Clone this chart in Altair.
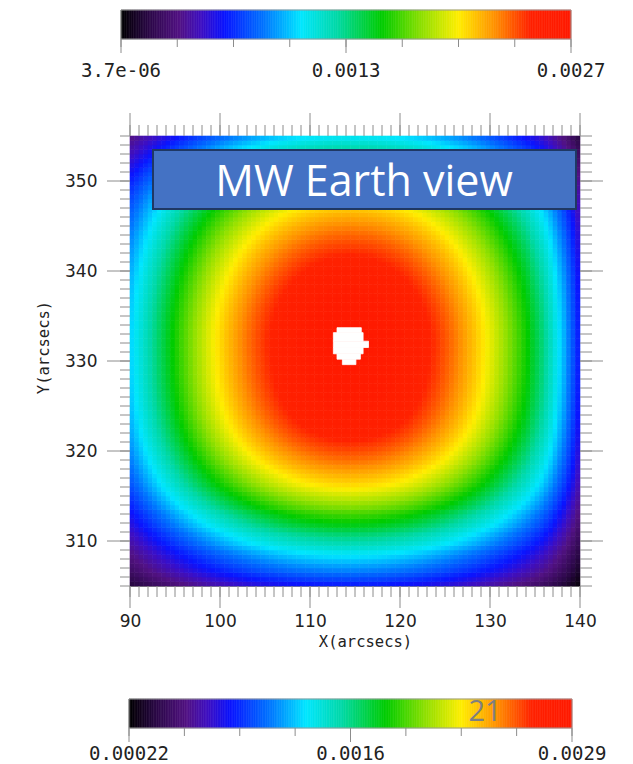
import altair as alt
import numpy as np
import pandas as pd

# Colour table: fraction of a colour-bar range -> colour
cmap_stops = [0.0, 0.06, 0.13, 0.18, 0.23, 0.32, 0.40, 0.48, 0.58, 0.67, 0.75, 0.83, 0.91, 1.0]
cmap_colors = ["#000000", "#2a0845", "#521283", "#3d0fc4", "#0a14ff", "#0078ff", "#00e6ff",
               "#00d9a8", "#00cc00", "#90e000", "#ffee00", "#ff9200", "#ff2200", "#ff1a00"]

# Intensity profiles across the field, one value per 0.5-arcsec cell
cell = 0.5
x_first = 90.0
y_first = 305.0
peak = 0.0029
x_profile = [
    0.438, 0.458, 0.478, 0.498, 0.518, 0.537, 0.557, 0.575, 0.594, 0.612,
    0.630, 0.648, 0.665, 0.682, 0.699, 0.715, 0.731, 0.747, 0.762, 0.777,
    0.791, 0.805, 0.818, 0.831, 0.844, 0.856, 0.868, 0.879, 0.890, 0.900,
    0.910, 0.919, 0.928, 0.937, 0.944, 0.952, 0.959, 0.965, 0.971, 0.976,
    0.981, 0.985, 0.989, 0.992, 0.995, 0.997, 0.998, 0.999, 1.000, 1.000,
    0.999, 0.998, 0.997, 0.995, 0.992, 0.989, 0.985, 0.981, 0.976, 0.971,
    0.965, 0.959, 0.952, 0.944, 0.937, 0.928, 0.919, 0.910, 0.900, 0.890,
    0.879, 0.868, 0.856, 0.844, 0.831, 0.818, 0.805, 0.791, 0.777, 0.762,
    0.747, 0.731, 0.715, 0.699, 0.682, 0.665, 0.648, 0.630, 0.612, 0.590,
    0.570, 0.550, 0.525, 0.500, 0.470, 0.440, 0.410, 0.375, 0.340, 0.300,
]
y_profile = [
    0.300, 0.330, 0.355, 0.380, 0.400, 0.420, 0.440, 0.460, 0.485, 0.510,
    0.530, 0.550, 0.575, 0.600, 0.620, 0.640, 0.660, 0.685, 0.705, 0.725,
    0.745, 0.765, 0.785, 0.800, 0.815, 0.830, 0.845, 0.860, 0.872, 0.884,
    0.896, 0.907, 0.918, 0.927, 0.936, 0.944, 0.951, 0.958, 0.964, 0.969,
    0.974, 0.978, 0.982, 0.985, 0.988, 0.991, 0.993, 0.995, 0.996, 0.997,
    0.998, 0.999, 1.000, 1.000, 1.000, 1.000, 0.999, 0.998, 0.996, 0.994,
    0.991, 0.988, 0.984, 0.980, 0.975, 0.970, 0.965, 0.959, 0.953, 0.946,
    0.939, 0.932, 0.924, 0.916, 0.907, 0.898, 0.888, 0.878, 0.867, 0.856,
    0.844, 0.832, 0.819, 0.805, 0.790, 0.774, 0.757, 0.739, 0.720, 0.700,
    0.679, 0.657, 0.634, 0.610, 0.585, 0.560, 0.535, 0.510, 0.485, 0.460,
]

# Blank (masked) pixels near the disc centre, one span per row
mask_x0 = [113.0, 112.6, 112.6, 112.6, 113.0, 113.6]
mask_x1 = [115.7, 115.9, 116.5, 115.9, 115.6, 115.1]
mask_y0 = [333.15, 332.2, 331.5, 330.8, 330.2, 329.6]
mask_y1 = [333.7, 333.15, 332.2, 331.5, 330.8, 330.2]

# Axes
x_range = [90, 140]
y_range = [305, 355]
x_minor = list(range(90, 141))
x_major = list(range(90, 141, 10))
y_minor = list(range(305, 356))
y_major = list(range(310, 351, 10))

# Colour bars
top_bar_lo, top_bar_hi = 3.7e-06, 0.0027
top_bar_labels = ["3.7e-06", "0.0013", "0.0027"]
bottom_bar_lo, bottom_bar_hi = 0.00022, 0.0029
bottom_bar_labels = ["0.00022", "0.0016", "0.0029"]
bar_divisions = 8

title_text = "MW Earth view"
slide_number = "21"

TICK = "#8c8c8c"
INK = "#222222"
MONO = "DejaVu Sans Mono"


def colour_scale(lo, hi):
    return alt.Scale(domain=[lo + s * (hi - lo) for s in cmap_stops], range=cmap_colors,
                     interpolate="rgb", clamp=True)


# ---------------- heat map ----------------
xs, ys = np.meshgrid(x_first + cell * np.arange(len(x_profile)),
                     y_first + cell * np.arange(len(y_profile)))
gx, gy = np.meshgrid(x_profile, y_profile)
grid = pd.DataFrame({
    "x0": xs.ravel(), "x1": xs.ravel() + cell,
    "y0": ys.ravel(), "y1": ys.ravel() + cell,
    "v": np.round(peak * gx.ravel() * gy.ravel(), 8),
})

xscale = alt.Scale(domain=x_range, nice=False, zero=False)
yscale = alt.Scale(domain=y_range, nice=False, zero=False)
heat_cs = colour_scale(bottom_bar_lo, bottom_bar_hi)

x_axis = alt.Axis(values=x_major, title="X(arcsecs)", ticks=False, grid=False,
                  domainColor=TICK, labelFont="DejaVu Sans", labelFontSize=17, labelColor=INK,
                  labelPadding=35, labelBaseline="middle", labelFlush=False, labelOverlap=False,
                  titleFont=MONO, titleFontSize=15.5, titleFontWeight="normal", titleColor=INK,
                  titleX=235, titleY=55, titleAlign="center", titleBaseline="middle")
y_axis = alt.Axis(values=y_major, title="Y(arcsecs)", ticks=False, grid=False,
                  domainColor=TICK, labelFont="DejaVu Sans", labelFontSize=17, labelColor=INK,
                  labelPadding=33, labelFlush=False, labelOverlap=False,
                  titleFont=MONO, titleFontSize=15.5, titleFontWeight="normal", titleColor=INK,
                  titleX=-87, titleY=211, titleAngle=270, titleAlign="center", titleBaseline="middle")

heat = alt.Chart(grid).mark_rect(strokeWidth=0.6).encode(
    x=alt.X("x0:Q", scale=xscale, axis=x_axis),
    x2="x1:Q",
    y=alt.Y("y0:Q", scale=yscale, axis=y_axis),
    y2="y1:Q",
    color=alt.Color("v:Q", scale=heat_cs, legend=None),
    stroke=alt.Stroke("v:Q", scale=heat_cs, legend=None),
)

mask = alt.Chart(pd.DataFrame({"x0": mask_x0, "x1": mask_x1, "y0": mask_y0, "y1": mask_y1})).mark_rect(
    color="white", stroke="white", strokeWidth=0.8
).encode(
    x=alt.X("x0:Q", scale=xscale, axis=x_axis), x2="x1:Q",
    y=alt.Y("y0:Q", scale=yscale, axis=y_axis), y2="y1:Q",
)


def x_ticks(values, y_from, y_to):
    return alt.Chart(pd.DataFrame({"x0": values})).mark_rule(color=TICK, strokeWidth=1).encode(
        x=alt.X("x0:Q", scale=xscale, axis=x_axis), y=alt.value(y_from), y2=alt.value(y_to))


def y_ticks(values, x_from, x_to):
    return alt.Chart(pd.DataFrame({"y0": values})).mark_rule(color=TICK, strokeWidth=1).encode(
        y=alt.Y("y0:Q", scale=yscale, axis=y_axis), x=alt.value(x_from), x2=alt.value(x_to))


tick_layers = [
    x_ticks(x_minor, 450, 461), x_ticks(x_major, 450, 472),   # bottom
    x_ticks(x_minor, 0, -11), x_ticks(x_major, 0, -23),       # top
    y_ticks(y_minor, 0, -10), y_ticks(y_major, 0, -23),       # left
    y_ticks(y_minor, 450, 462), y_ticks(y_major, 450, 473),   # right
]

label_df = pd.DataFrame({"text": [title_text]})
box = alt.Chart(label_df).mark_rect(fill="#4472C4", stroke="#1F3864", strokeWidth=2).encode(
    x=alt.value(23), x2=alt.value(446), y=alt.value(14), y2=alt.value(73))
box_text = alt.Chart(label_df).mark_text(font="Open Sans", fontSize=43, color="white",
                                         align="center", baseline="alphabetic").encode(
    x=alt.value(234), y=alt.value(60), text="text:N")

heat_panel = alt.layer(heat, mask, *tick_layers, box, box_text).properties(width=450, height=450)


# ---------------- colour bars ----------------
def colour_bar(lo, hi, labels, x_px, bar_top, height, label_y, extra=None):
    f = np.linspace(0, 1, 257)
    strip = pd.DataFrame({"f0": f[:-1], "f1": f[1:], "v": lo + (f[:-1] + f[1:]) / 2 * (hi - lo)})
    fscale = alt.Scale(domain=[0, 1], range=x_px, nice=False, zero=False)
    cs = colour_scale(lo, hi)
    bar_bottom = bar_top + 29
    fx = alt.X("f0:Q", scale=fscale, axis=None)
    strip_layer = alt.Chart(strip).mark_rect(strokeWidth=0.6).encode(
        x=fx, x2="f1:Q", y=alt.value(bar_top), y2=alt.value(bar_bottom),
        color=alt.Color("v:Q", scale=cs, legend=None),
        stroke=alt.Stroke("v:Q", scale=cs, legend=None))
    frame = alt.Chart(pd.DataFrame({"f0": [0.0], "f1": [1.0]})).mark_rect(
        fillOpacity=0, stroke="#9a9a9a", strokeWidth=1).encode(
        x=fx, x2="f1:Q", y=alt.value(bar_top), y2=alt.value(bar_bottom))
    positions = [i / bar_divisions for i in range(bar_divisions + 1)]
    label_pos = [0.0, 0.5, 1.0]
    minor = alt.Chart(pd.DataFrame({"f0": positions})).mark_rule(color=TICK).encode(
        x=fx, y=alt.value(bar_bottom), y2=alt.value(bar_bottom + 8))
    major = alt.Chart(pd.DataFrame({"f0": label_pos})).mark_rule(color=TICK).encode(
        x=fx, y=alt.value(bar_bottom), y2=alt.value(bar_bottom + 14))
    text = alt.Chart(pd.DataFrame({"f0": label_pos, "label": labels})).mark_text(
        font=MONO, fontSize=19, color=INK, align="center", baseline="middle").encode(
        x=fx, y=alt.value(label_y), text="label:N")
    layers = [strip_layer, frame, minor, major, text]
    if extra is not None:
        layers.append(extra)
    return alt.layer(*layers).properties(width=450, height=height)


top_bar = colour_bar(top_bar_lo, top_bar_hi, top_bar_labels, [-9, 441], 0, 29, 61)

number = alt.Chart(pd.DataFrame({"n": [slide_number]})).mark_text(
    font="Open Sans", fontSize=29, color="#7f7f7f", align="center", baseline="alphabetic").encode(
    x=alt.value(355), y=alt.value(38), text="n:N")
bottom_bar = colour_bar(bottom_bar_lo, bottom_bar_hi, bottom_bar_labels, [-1, 442], 16, 45, 71, number)

chart = alt.vconcat(top_bar, heat_panel, bottom_bar, spacing=97, bounds="flush").resolve_scale(
    color="independent", stroke="independent", x="independent", y="independent"
).properties(
    padding={"left": 36, "top": 9, "right": 0, "bottom": 0},
    background="white",
).configure_view(stroke=None)

chart.save("out.html", embed_options={"renderer": "svg", "actions": False})
